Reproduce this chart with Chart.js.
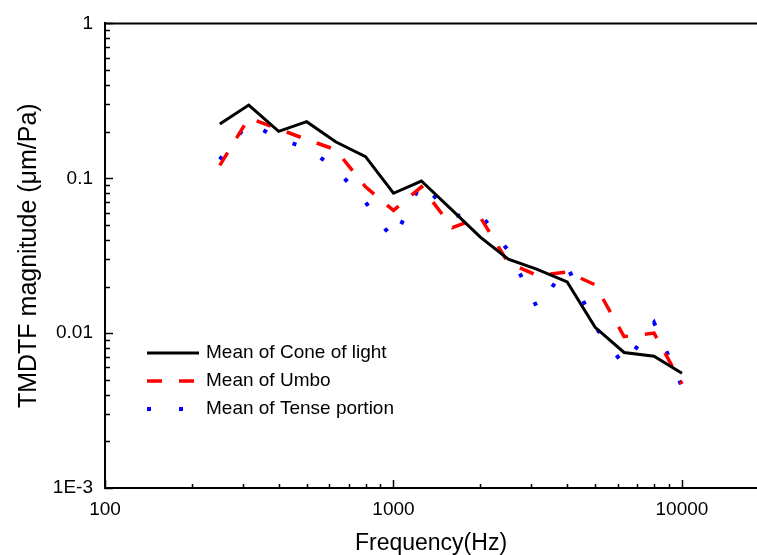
<!DOCTYPE html>
<html>
<head>
<meta charset="utf-8">
<script src="https://cdn.jsdelivr.net/npm/chart.js@4.4.1/dist/chart.umd.min.js"></script>
<style>
  body { margin: 0; background: #fff; }
  canvas { display: block; }
</style>
</head>
<body>
<canvas id="tmdtf-chart" width="757" height="555"></canvas>
<script>
// third-octave frequencies (Hz)
const freqs = [250, 315, 400, 500, 630, 800, 1000, 1250, 1600, 2000, 2500, 3150, 4000, 5000, 6300, 8000, 10000];

// TMDTF magnitude (um/Pa)
const coneOfLight = [0.224, 0.297, 0.201, 0.232, 0.172, 0.138, 0.080, 0.096, 0.062, 0.0417, 0.030, 0.0258, 0.0214, 0.0109, 0.0075, 0.0071, 0.0055];
const umbo = [0.121, 0.245, 0.208, 0.178, 0.153, 0.088, 0.062, 0.088, 0.048, 0.056, 0.0284, 0.0236, 0.0248, 0.0205, 0.0095, 0.0100, 0.0047];
const tensePortion = [0.132, 0.230, 0.180, 0.157, 0.116, 0.070, 0.040, 0.094, 0.057, 0.059, 0.034, 0.0146, 0.0271, 0.011, 0.0062, 0.0117, 0.0045];

const seriesNames = ["Mean of Cone of light", "Mean of Umbo", "Mean of Tense portion"];

const xTickValues = [100, 1000, 10000];
const xTickLabels = ["100", "1000", "10000"];
const yTickValues = [0.001, 0.01, 0.1, 1];
const yTickLabels = ["1E-3", "0.01", "0.1", "1"];

const FONT = "'Liberation Sans', Arial, Helvetica, sans-serif";

function toPoints(values) {
    return freqs.map((f, i) => ({ x: f, y: values[i] }));
}

// inward minor/major ticks, top frame line and the legend box
const framePlugin = {
    id: 'frame',
    afterDraw(chart) {
        const ctx = chart.ctx;
        const area = chart.chartArea;
        const xs = chart.scales.x;
        const ys = chart.scales.y;
        ctx.save();
        ctx.strokeStyle = '#000';
        ctx.lineWidth = 2;
        ctx.beginPath();
        ctx.moveTo(area.left - 1, area.top);
        ctx.lineTo(chart.width, area.top);
        ctx.stroke();

        ctx.lineWidth = 1.5;
        ctx.beginPath();
        for (let e = Math.floor(Math.log10(xs.min)); e <= Math.ceil(Math.log10(xs.max)); e++) {
            for (let k = 1; k <= 9; k++) {
                const v = k * Math.pow(10, e);
                if (v < xs.min || v > xs.max) continue;
                const px = Math.round(xs.getPixelForValue(v)) + 0.5;
                const len = k === 1 ? 8 : 4;
                ctx.moveTo(px, area.bottom);
                ctx.lineTo(px, area.bottom - len);
            }
        }
        for (let e = Math.floor(Math.log10(ys.min)); e <= Math.ceil(Math.log10(ys.max)); e++) {
            for (let k = 1; k <= 9; k++) {
                const v = k * Math.pow(10, e);
                if (v < ys.min * 0.999 || v > ys.max * 1.001) continue;
                const py = Math.round(ys.getPixelForValue(v)) + 0.5;
                const len = k === 1 ? 8 : 5;
                ctx.moveTo(area.left, py);
                ctx.lineTo(area.left + len, py);
            }
        }
        ctx.stroke();

        // legend
        const lx = area.left + 42;
        let ly = area.bottom - 135;
        ctx.font = '19px ' + FONT;
        ctx.textBaseline = 'middle';
        ctx.fillStyle = '#000';
        chart.data.datasets.forEach(ds => {
            ctx.save();
            ctx.strokeStyle = ds.borderColor;
            ctx.lineWidth = ds.borderWidth;
            ctx.setLineDash(ds.borderDash || []);
            ctx.beginPath();
            ctx.moveTo(lx, ly);
            ctx.lineTo(lx + 52, ly);
            ctx.stroke();
            ctx.restore();
            ctx.fillText(ds.label, lx + 59, ly);
            ly += 28;
        });
        ctx.restore();
    }
};

const tmdtfCanvas = document.getElementById("tmdtf-chart");

let tmdtfData = {
    datasets: [{
        label: seriesNames[0],
        data: toPoints(coneOfLight),
        borderColor: '#000000',
        borderWidth: 3,
    }, {
        label: seriesNames[1],
        data: toPoints(umbo),
        borderColor: '#ff0000',
        borderWidth: 3.5,
        borderDash: [15, 17],
    }, {
        label: seriesNames[2],
        data: toPoints(tensePortion),
        borderColor: '#0000ff',
        borderWidth: 4,
        borderDash: [4, 28],
    }]
};

let tmdtfOptions = {
    responsive: false,
    animation: false,
    layout: { padding: { top: 20, right: 0, left: 0, bottom: 0 } },
    elements: {
        point: { radius: 0 },
        line: { tension: 0, fill: false, borderCapStyle: 'butt', borderJoinStyle: 'miter' }
    },
    plugins: {
        legend: { display: false },
        tooltip: { enabled: false }
    },
    scales: {
        x: {
            type: 'logarithmic',
            min: 100,
            max: 18200,
            afterBuildTicks: scale => { scale.ticks = xTickValues.map(v => ({ value: v })); },
            afterFit: scale => { scale.height = 67; },
            grid: { display: false, drawTicks: false },
            border: { display: true, color: '#000', width: 2 },
            ticks: {
                padding: 10,
                color: '#000',
                font: { family: FONT, size: 19 },
                maxRotation: 0,
                autoSkip: false,
                callback: v => xTickLabels[xTickValues.indexOf(v)]
            },
            title: {
                display: true,
                text: 'Frequency(Hz)',
                color: '#000',
                font: { family: FONT, size: 23, lineHeight: 1 },
                padding: { top: 0, bottom: 0 }
            }
        },
        y: {
            type: 'logarithmic',
            min: 0.001,
            max: 1,
            afterBuildTicks: scale => { scale.ticks = yTickValues.map(v => ({ value: v })); },
            afterFit: scale => { scale.width = 105; },
            grid: { display: false, drawTicks: false },
            border: { display: true, color: '#000', width: 2 },
            ticks: {
                padding: 12,
                color: '#000',
                font: { family: FONT, size: 19 },
                autoSkip: false,
                callback: v => yTickLabels[yTickValues.indexOf(v)]
            },
            title: {
                display: true,
                text: 'TMDTF magnitude (\u03bcm/Pa)',
                color: '#000',
                font: { family: FONT, size: 25, lineHeight: 1 },
                padding: { top: 17, bottom: 0 }
            }
        }
    }
};

let tmdtfChart = new Chart(tmdtfCanvas, {
    type: 'line',
    data: tmdtfData,
    options: tmdtfOptions,
    plugins: [framePlugin]
});
</script>
</body>
</html>
